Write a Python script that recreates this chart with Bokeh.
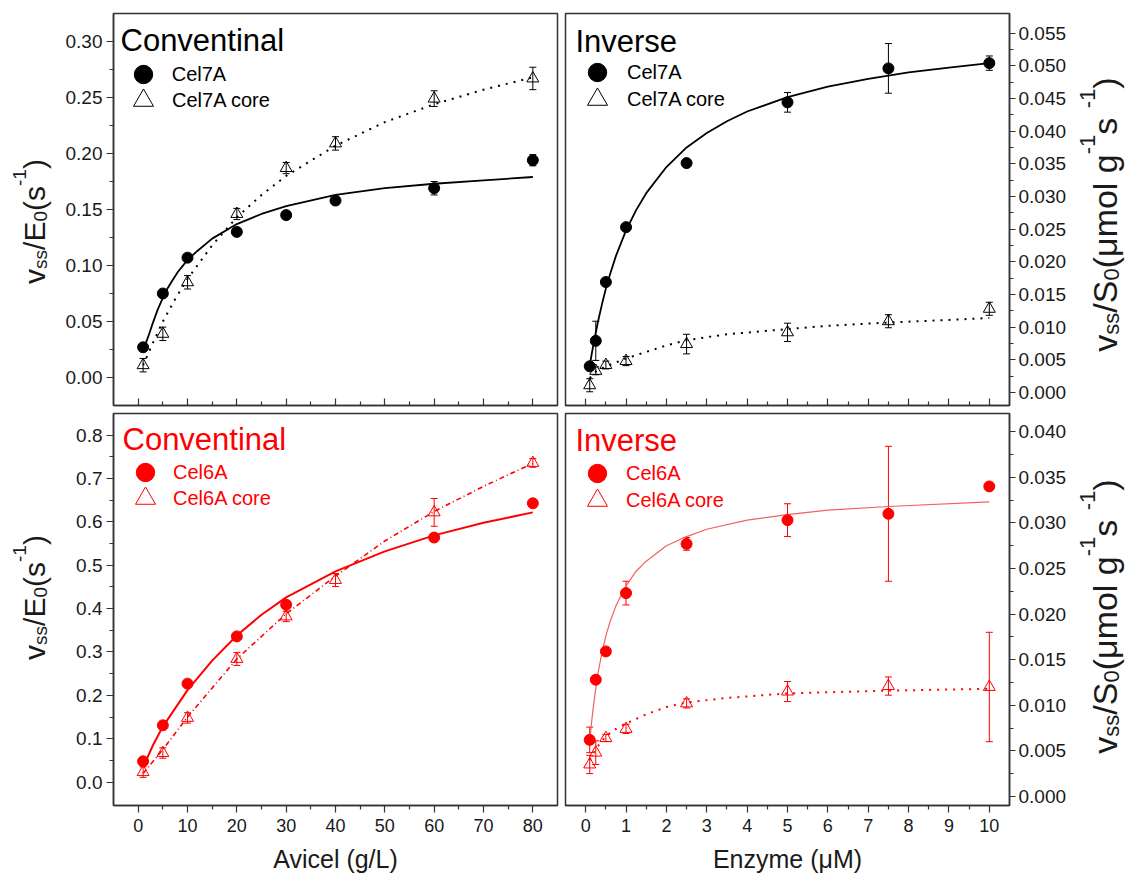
import math
from bokeh.plotting import figure
from bokeh.models import (Range1d, FixedTicker, PrintfTickFormatter, ColumnDataSource,
                          Whisker, TeeHead, Label, Legend, LegendItem, LinearAxis)
from bokeh.layouts import row, column
from bokeh.embed import file_html
from bokeh.resources import INLINE
from bokeh.core.properties import value

# ---------------- data ----------------
# Top-left: Conventional, Cel7A (black)
tl_x = [1, 5, 10, 20, 30, 40, 60, 80]
tl_cel7a = [0.027, 0.075, 0.107, 0.130, 0.145, 0.158, 0.169, 0.194]
tl_cel7a_err = [0.002, 0.002, 0.002, 0.003, 0.002, 0.002, 0.006, 0.005]
tl_core = [0.011, 0.039, 0.085, 0.146, 0.187, 0.209, 0.249, 0.267]
tl_core_err = [0.006, 0.006, 0.006, 0.005, 0.005, 0.006, 0.007, 0.010]
tl_fit_x = [1, 1.5, 2, 3, 4, 5, 6, 7, 8, 10, 12, 15, 20, 25, 30, 40, 50, 60, 70, 80]
tl_fit = [0.024, 0.030, 0.036, 0.049, 0.061, 0.071, 0.080, 0.087, 0.094, 0.105, 0.113, 0.124,
          0.137, 0.146, 0.153, 0.163, 0.169, 0.173, 0.176, 0.179]
tl_core_fit_x = [1, 3, 5, 7.5, 10, 15, 20, 25, 30, 40, 50, 60, 70, 80]
tl_core_fit = [0.011, 0.031, 0.050, 0.070, 0.088, 0.118, 0.143, 0.163, 0.180, 0.207, 0.228,
               0.244, 0.257, 0.268]

# Top-right: Inverse, Cel7A (black)
tr_x = [0.1, 0.25, 0.5, 1, 2.5, 5, 7.5, 10]
tr_cel7a = [0.0040, 0.0079, 0.0169, 0.0253, 0.0351, 0.0444, 0.0496, 0.0504]
tr_cel7a_err = [0.0005, 0.0030, 0.0003, 0.0003, 0.0003, 0.0015, 0.0038, 0.0011]
tr_core = [0.0011, 0.0033, 0.0042, 0.0048, 0.0074, 0.0092, 0.0109, 0.0128]
tr_core_err = [0.0010, 0.0006, 0.0006, 0.0007, 0.0015, 0.0014, 0.0010, 0.0010]
tr_fit_x = [0.1, 0.15, 0.2, 0.3, 0.4, 0.5, 0.6, 0.75, 1, 1.25, 1.5, 2, 2.5, 3, 3.5, 4, 5,
            6, 7, 8, 9, 10]
tr_fit = [0.0041, 0.0059, 0.0076, 0.0107, 0.0134, 0.0159, 0.0180, 0.0209, 0.0248, 0.0279,
          0.0305, 0.0345, 0.0375, 0.0397, 0.0415, 0.0430, 0.0452, 0.0468, 0.0480, 0.0490,
          0.0497, 0.0504]
tr_core_fit_x = [0.1, 0.25, 0.5, 1, 1.5, 2, 2.5, 3.5, 5, 6, 7.5, 9, 10]
tr_core_fit = [0.0022, 0.0032, 0.0040, 0.0052, 0.0062, 0.0072, 0.0080, 0.0089, 0.0097,
               0.0102, 0.0107, 0.0111, 0.0114]

# Bottom-left: Conventional, Cel6A (red)
bl_cel6a_x = [1, 5, 10, 20, 30, 60, 80]
bl_cel6a = [0.048, 0.131, 0.227, 0.336, 0.409, 0.564, 0.643]
bl_cel6a_err = [0.006, 0.005, 0.005, 0.006, 0.006, 0.008, 0.005]
bl_core_x = [1, 5, 10, 20, 30, 40, 60, 80]
bl_core = [0.023, 0.067, 0.148, 0.284, 0.382, 0.466, 0.622, 0.736]
bl_core_err = [0.012, 0.012, 0.012, 0.015, 0.012, 0.015, 0.032, 0.010]
bl_fit_x = [1, 2, 3, 5, 7.5, 10, 15, 20, 25, 30, 40, 50, 60, 70, 80]
bl_fit = [0.035, 0.060, 0.085, 0.128, 0.170, 0.212, 0.280, 0.338, 0.386, 0.426, 0.486, 0.532,
          0.569, 0.598, 0.622]
bl_core_fit_x = [1, 5, 10, 20, 30, 40, 50, 60, 70, 80]
bl_core_fit = [0.020, 0.075, 0.150, 0.284, 0.388, 0.475, 0.556, 0.624, 0.682, 0.735]

# Bottom-right: Inverse, Cel6A (red)
br_x = [0.1, 0.25, 0.5, 1, 2.5, 5, 7.5, 10]
br_cel6a = [0.0062, 0.0128, 0.0159, 0.0223, 0.0277, 0.0303, 0.0310, 0.0340]
br_cel6a_err = [0.0014, 0.0003, 0.0003, 0.0013, 0.0007, 0.0018, 0.0074, 0.0]
br_core = [0.0035, 0.0048, 0.0064, 0.0074, 0.0102, 0.0115, 0.0121, 0.0120]
br_core_err = [0.0010, 0.0013, 0.0004, 0.0005, 0.0005, 0.0011, 0.0010, 0.0060]
br_fit_x = [0.1, 0.15, 0.2, 0.3, 0.4, 0.5, 0.6, 0.75, 1, 1.25, 1.5, 2, 2.5, 3, 4, 5, 6,
            7.5, 10]
br_fit = [0.0060, 0.0083, 0.0102, 0.0134, 0.0157, 0.0176, 0.0191, 0.0209, 0.0231, 0.0247,
          0.0258, 0.0275, 0.0285, 0.0293, 0.0303, 0.0309, 0.0314, 0.0318, 0.0323]
br_core_fit_x = [0.1, 0.25, 0.5, 0.75, 1, 1.5, 2, 2.5, 3.5, 5, 7.5, 10]
br_core_fit = [0.0040, 0.0052, 0.0066, 0.0074, 0.0080, 0.0090, 0.0098, 0.0103, 0.0108,
               0.0113, 0.0116, 0.0118]

# ticks
conv_xticks = [0, 10, 20, 30, 40, 50, 60, 70, 80]
inv_xticks = [0, 1, 2, 3, 4, 5, 6, 7, 8, 9, 10]
tl_yticks = [0.00, 0.05, 0.10, 0.15, 0.20, 0.25, 0.30]
tr_yticks = [0.000, 0.005, 0.010, 0.015, 0.020, 0.025, 0.030, 0.035, 0.040, 0.045, 0.050, 0.055]
bl_yticks = [0.0, 0.1, 0.2, 0.3, 0.4, 0.5, 0.6, 0.7, 0.8]
br_yticks = [0.000, 0.005, 0.010, 0.015, 0.020, 0.025, 0.030, 0.035, 0.040]

# ---------------- styling ----------------
FONT = "Liberation Sans"
AXC = "#333333"
TXT = "#1a1a1a"
BLACK = "#000000"
RED = "#ff0000"
RED_LIGHT = "#f26060"

W_LAB_L, W_LEFT, W_RIGHT, W_LAB_R = 55, 506, 508, 59
H_TOP, H_BOT = 409, 473
H_ALL = H_TOP + H_BOT

# frames in page pixels (left, top, right, bottom)
FR_TL = (113, 13, 557, 405)
FR_TR = (565, 13, 1012, 405)
FR_BL = (113, 413, 557, 805)
FR_BR = (565, 413, 1012, 805)

XR_CONV = (-5, 85)
XR_INV = (-0.5, 10.5)
YR_TL = (-0.025, 0.325)
YR_TR = (-0.002, 0.058)
YR_BL = (-0.054, 0.85)
YR_BR = (-0.001, 0.042)


def mids(t):
    return [(a + b) / 2 for a, b in zip(t[:-1], t[1:])]


def style_axis(ax):
    ax.axis_line_color = AXC
    ax.axis_line_width = 1.5
    ax.major_tick_line_color = AXC
    ax.minor_tick_line_color = AXC
    ax.major_tick_line_width = 1.2
    ax.minor_tick_line_width = 1.2
    ax.major_label_text_font = FONT
    ax.major_label_text_color = TXT


def panel(w, h, borders, xr, yr, xticks, yticks, yfmt, yside, bottom, xlabel=None):
    bl, br, bt, bb = borders
    p = figure(width=w, height=h, x_range=Range1d(*xr), y_range=Range1d(*yr),
               output_backend="svg", toolbar_location=None, y_axis_location=yside,
               min_border_left=bl, min_border_right=br, min_border_top=bt, min_border_bottom=bb,
               background_fill_color="white", border_fill_color="white")
    p.xgrid.visible = False
    p.ygrid.visible = False
    p.outline_line_color = AXC
    p.outline_line_width = 1.5
    xa = p.xaxis[0]
    style_axis(xa)
    style_axis(p.yaxis[0])
    if bottom:
        xa.ticker = FixedTicker(ticks=xticks, minor_ticks=mids(xticks))
        xa.major_tick_out, xa.major_tick_in = 7, 0
        xa.minor_tick_out, xa.minor_tick_in = 4, 0
        xa.major_label_text_font_size = "18px"
        xa.major_label_standoff = 6
        xa.axis_label = xlabel
        xa.axis_label_text_font = FONT
        xa.axis_label_text_font_size = "25px"
        xa.axis_label_text_font_style = "normal"
        xa.axis_label_text_color = TXT
        xa.axis_label_standoff = 10
    else:
        # inward tick marks only, no labels: long marks at the main values,
        # short marks half-way, on two label-less axes that share the frame edge
        xa.ticker = FixedTicker(ticks=[], minor_ticks=xticks)
        xa.minor_tick_out, xa.minor_tick_in = 0, 7
        xa.major_tick_out, xa.major_tick_in = 0, 0
        xa.major_label_standoff = 0
        xa2 = LinearAxis(ticker=FixedTicker(ticks=[], minor_ticks=mids(xticks)))
        style_axis(xa2)
        xa2.axis_line_color = None
        xa2.minor_tick_out, xa2.minor_tick_in = 0, 4
        xa2.major_tick_out, xa2.major_tick_in = 0, 0
        xa2.major_label_standoff = 0
        p.add_layout(xa2, "below")
    ya = p.yaxis[0]
    ya.ticker = FixedTicker(ticks=yticks, minor_ticks=mids(yticks))
    ya.formatter = PrintfTickFormatter(format=yfmt)
    if yside == "left":
        ya.major_tick_out, ya.major_tick_in = 7, 0
        ya.major_label_standoff = 4
    else:
        ya.major_tick_out, ya.major_tick_in = 6, 0
        ya.major_label_standoff = 3
    ya.minor_tick_out, ya.minor_tick_in = 4, 0
    ya.major_label_text_font_size = "19px"
    return p


def series(p, fx, fy, lcolor, lw, dash, x, y, err, marker, size, filled, mcolor=None):
    mcolor = mcolor or lcolor
    p.line(fx, fy, line_color=lcolor, line_width=lw, line_dash=dash)
    src = ColumnDataSource(dict(x=x, y=y,
                                lo=[a - e for a, e in zip(y, err)],
                                hi=[a + e for a, e in zip(y, err)]))
    wk = Whisker(source=src, base="x", lower="lo", upper="hi", line_color=mcolor, line_width=1,
                 upper_head=TeeHead(size=7, line_color=mcolor, line_width=1),
                 lower_head=TeeHead(size=7, line_color=mcolor, line_width=1))
    p.add_layout(wk)
    if filled:
        r = p.scatter("x", "y", source=src, marker=marker, size=size,
                      fill_color=mcolor, line_color=mcolor, line_width=1)
    else:
        r = p.scatter("x", "y", source=src, marker=marker, size=size,
                      fill_color=None, line_color=mcolor, line_width=1)
    return r


def to_data(fr, xr, yr, px, py):
    l, t, r, b = fr
    x = xr[0] + (px - l) / (r - l) * (xr[1] - xr[0])
    y = yr[1] - (py - t) / (b - t) * (yr[1] - yr[0])
    return x, y


def title(p, fr, xr, yr, text, px, py, color):
    x, y = to_data(fr, xr, yr, px, py)
    p.add_layout(Label(x=x, y=y, text=text, text_font=FONT, text_font_size="31px",
                       text_color=color, text_align="left", text_baseline="alphabetic"))


def legend_item(p, fr, label, rend, cx, cy, box, text_x, color):
    l, t, r, b = fr
    vx = cx - box / 2 - l
    vy = b - (cy + box / 2)
    leg = Legend(items=[LegendItem(label=label, renderers=[rend])], location=(vx, vy),
                 orientation="vertical", glyph_width=box, glyph_height=box,
                 label_standoff=int(round(text_x - (cx + box / 2))), padding=0, margin=0,
                 spacing=0, border_line_alpha=0, background_fill_alpha=0,
                 label_text_font=FONT, label_text_font_size="20px", label_text_color=color)
    p.add_layout(leg)


# ---------------- panels ----------------
tl = panel(W_LEFT, H_TOP, (58, 4, 13, 4), XR_CONV, YR_TL, conv_xticks, tl_yticks, "%.2f", "left", False)
tr = panel(W_RIGHT, H_TOP, (4, 57, 13, 4), XR_INV, YR_TR, inv_xticks, tr_yticks, "%.3f", "right", False)
bl = panel(W_LEFT, H_BOT, (58, 4, 4, 77), XR_CONV, YR_BL, conv_xticks, bl_yticks, "%.1f", "left", True,
           "Avicel (g/L)")
br = panel(W_RIGHT, H_BOT, (4, 57, 4, 77), XR_INV, YR_BR, inv_xticks, br_yticks, "%.3f", "right", True,
           "Enzyme (\u03bcM)")

DOT = "2 6"

r1 = series(tl, tl_fit_x, tl_fit, BLACK, 1.8, "solid", tl_x, tl_cel7a, tl_cel7a_err, "circle", 11, True)
r2 = series(tl, tl_core_fit_x, tl_core_fit, BLACK, 2, DOT, tl_x, tl_core, tl_core_err, "triangle", 12, False)
title(tl, FR_TL, XR_CONV, YR_TL, "Conventinal", 120, 40, BLACK)
legend_item(tl, FR_TL, "Cel7A", r1, 142.7, 74, 46, 171.7, BLACK)
legend_item(tl, FR_TL, "Cel7A core", r2, 143, 100, 50, 171.7, BLACK)

r3 = series(tr, tr_fit_x, tr_fit, BLACK, 1.8, "solid", tr_x, tr_cel7a, tr_cel7a_err, "circle", 11, True)
r4 = series(tr, tr_core_fit_x, tr_core_fit, BLACK, 2, DOT, tr_x, tr_core, tr_core_err, "triangle", 12, False)
title(tr, FR_TR, XR_INV, YR_TR, "Inverse", 575, 41, BLACK)
legend_item(tr, FR_TR, "Cel7A", r3, 597, 72, 46, 627, BLACK)
legend_item(tr, FR_TR, "Cel7A core", r4, 597, 99, 50, 627, BLACK)

r5 = series(bl, bl_fit_x, bl_fit, RED, 2, "solid", bl_cel6a_x, bl_cel6a, bl_cel6a_err, "circle", 11, True)
r6 = series(bl, bl_core_fit_x, bl_core_fit, RED, 1.6, "5 3 1 3", bl_core_x, bl_core, bl_core_err,
            "triangle", 12, False)
title(bl, FR_BL, XR_CONV, YR_BL, "Conventinal", 122, 439, RED)
legend_item(bl, FR_BL, "Cel6A", r5, 145, 472, 46, 173, RED)
legend_item(bl, FR_BL, "Cel6A core", r6, 145, 498, 50, 173, RED)

r7 = series(br, br_fit_x, br_fit, RED_LIGHT, 1.2, "solid", br_x, br_cel6a, br_cel6a_err, "circle", 11,
            True, mcolor=RED)
r8 = series(br, br_core_fit_x, br_core_fit, RED, 2, DOT, br_x, br_core, br_core_err, "triangle", 12, False)
title(br, FR_BR, XR_INV, YR_BR, "Inverse", 575, 440, RED)
legend_item(br, FR_BR, "Cel6A", r7, 597, 473, 46, 626, RED)
legend_item(br, FR_BR, "Cel6A core", r8, 597, 500, 50, 626, RED)

# ---------------- rotated axis titles with sub/superscripts ----------------
ADV = {'v': 0.5, 's': 0.5, '/': 0.278, 'E': 0.667, '0': 0.556, '(': 0.333, ')': 0.333,
       '-': 0.333, '1': 0.556, 'S': 0.667, '\u03bc': 0.576, 'm': 0.833, 'o': 0.556,
       'l': 0.222, ' ': 0.278, 'g': 0.556}


def adv(s):
    return sum(ADV.get(c, 0.55) for c in s)


def label_fig(w, h):
    f = figure(width=w, height=h, x_range=Range1d(0, w), y_range=Range1d(0, h),
               output_backend="svg", toolbar_location=None, x_axis_type=None, y_axis_type=None,
               min_border=0, background_fill_color="white", border_fill_color="white")
    f.outline_line_color = None
    return f


def rot_label(f, H, bx, cy, pieces, F, S, sub_dx, sup_dx):
    total = sum(adv(t) * (F if k == "n" else S) for t, k in pieces)
    y = cy + total / 2
    for t, k in pieces:
        size = F if k == "n" else S
        dx = {"n": 0, "sub": sub_dx, "sup": sup_dx}[k]
        f.text(x=[bx + dx], y=[H - y], text=[t], angle=math.pi / 2,
               text_font=value(FONT), text_font_size=value(f"{size}px"),
               text_align="left", text_baseline="alphabetic", text_color=TXT)
        y -= adv(t) * size


left_pieces = [("v", "n"), ("ss", "sub"), ("/", "n"), ("E", "n"), ("0", "sub"),
               ("(s", "n"), ("-1", "sup"), (")", "n")]
right_pieces = [("v", "n"), ("ss", "sub"), ("/", "n"), ("S", "n"), ("0", "sub"),
                ("(\u03bcmol g", "n"), ("-1", "sup"), (" s", "n"), ("-1", "sup"), (")", "n")]

labL = label_fig(W_LAB_L, H_ALL)
rot_label(labL, H_ALL, 34, 221, left_pieces, 30, 19, 6, -15)
rot_label(labL, H_ALL, 34, 597, left_pieces, 30, 19, 6, -15)

labR = label_fig(W_LAB_R, H_ALL)
rot_label(labR, H_ALL, 35, 214, right_pieces, 34, 22, 7, -17)
rot_label(labR, H_ALL, 35, 616, right_pieces, 34, 22, 7, -17)

layout = row(labL, column(row(tl, tr), row(bl, br)), labR)

open("out.html", "w").write(file_html(layout, INLINE))
